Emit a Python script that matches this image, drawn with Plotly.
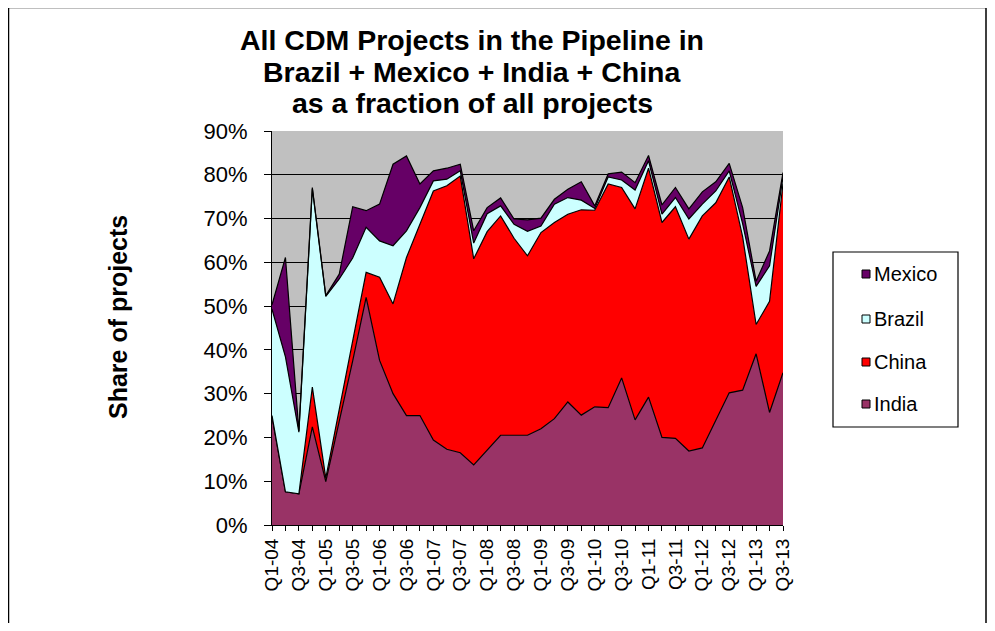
import plotly.graph_objects as go

quarters = [f"Q{q}-{y:02d}" for y in range(4, 14) for q in (1, 2, 3, 4)][:39]

india = [24.7, 7.6, 7.1, 22.4, 9.9, 23.5, 37.5, 52.0, 37.6, 30.0,
         25.0, 25.0, 19.4, 17.3, 16.5, 13.7, 17.1, 20.5, 20.5, 20.5,
         22.0, 24.3, 28.1, 25.1, 27.0, 26.8, 33.6, 24.0, 29.2, 20.0,
         19.8, 16.9, 17.6, 23.8, 30.2, 30.8, 39.1, 25.7, 34.8]
china = [0.3, 0.0, 0.0, 9.1, 0.8, 3.0, 4.5, 5.7, 19.0, 20.5,
         36.1, 43.7, 56.9, 60.2, 63.2, 47.1, 49.9, 50.1, 45.0, 41.0,
         44.8, 44.8, 42.9, 46.9, 44.9, 51.1, 43.5, 48.2, 52.3, 49.1,
         52.9, 48.4, 53.0, 49.8, 49.3, 35.0, 6.7, 25.4, 43.2]
brazil = [24.3, 30.8, 14.1, 45.3, 41.5, 29.7, 19.0, 10.3, 8.3, 13.3,
          6.1, 3.8, 2.3, 1.5, 1.2, 3.6, 4.1, 2.3, 3.2, 5.6,
          1.5, 4.2, 3.8, 2.2, 0.4, 1.6, 1.7, 4.3, 1.7, 1.9,
          2.1, 4.6, 2.7, 2.7, 1.4, 3.0, 8.7, 8.1, 1.5]
mexico = [1.0, 22.7, 0.3, 0.3, 0.2, 1.1, 11.7, 3.8, 8.4, 18.6,
          17.1, 5.4, 2.3, 2.5, 1.5, 2.8, 1.4, 1.8, 1.2, 2.6,
          1.8, 1.1, 1.9, 4.2, 0.6, 0.7, 1.8, 1.7, 1.2, 2.1,
          2.3, 2.3, 2.8, 2.1, 1.7, 3.7, 1.2, 3.4, 1.0]

series_names = ["India", "China", "Brazil", "Mexico"]
series_values = [india, china, brazil, mexico]
series_colors = ["#993366", "#FF0000", "#CCFFFF", "#660066"]

title_lines = ["All CDM Projects in the Pipeline in",
               "Brazil + Mexico + India + China",
               "as a fraction of all projects"]

tick_text = [q if i % 2 == 0 else "" for i, q in enumerate(quarters)]
y_ticks = [i / 10 for i in range(10)]

FONT = "Liberation Sans, Arial, sans-serif"

# page-pixel layout (body has an 8px margin)
OFF = 8
W, H = 995 - 2 * OFF, 631 - 2 * OFF
PL, PR, PT, PB = 272, 783, 131, 525  # plot area in page pixels
pw, ph = PR - PL, PB - PT


def xp(px):
    return (px - PL) / pw


def yp(py):
    return (PB - py) / ph


fig = go.Figure()
for name, vals, col in zip(series_names, series_values, series_colors):
    fig.add_trace(go.Scatter(
        x=quarters, y=[v / 100 for v in vals], name=name,
        stackgroup="one", mode="lines",
        line=dict(color="black", width=1.2),
        fillcolor=col, showlegend=False,
    ))

fig.update_layout(
    width=W, height=H,
    margin=dict(l=PL - OFF, r=W - (PR - OFF), t=PT - OFF, b=H - (PB - OFF), pad=0),
    paper_bgcolor="white", plot_bgcolor="#C0C0C0",
    font=dict(family=FONT, color="black"),
    xaxis=dict(
        type="category", range=[0, len(quarters) - 1],
        tickmode="array", tickvals=quarters, ticktext=tick_text,
        tickangle=-90, ticks="outside", ticklen=5, tickcolor="black",
        showline=True, linecolor="black", linewidth=1,
        showgrid=False, tickfont=dict(size=19, family=FONT),
    ),
    yaxis=dict(
        range=[0, 0.9], tickmode="array", tickvals=y_ticks,
        tickformat=".0%", ticks="outside", ticklen=7, tickcolor="black",
        showline=True, linecolor="black", linewidth=1,
        showgrid=True, gridcolor="black", gridwidth=1,
        zeroline=False, tickfont=dict(size=22, family=FONT),
        ticklabelstandoff=12,
    ),
    showlegend=False,
)

# title lines
for txt, yc in zip(title_lines, [40, 72, 103]):
    fig.add_annotation(
        text=f"<b>{txt}</b>", x=xp(472), y=yp(yc), xref="paper", yref="paper",
        xanchor="center", yanchor="middle", showarrow=False,
        font=dict(size=28.5, family=FONT, color="black"),
    )

# y-axis title
fig.add_annotation(
    text="<b>Share of projects</b>", textangle=-90,
    x=xp(118), y=yp(317), xref="paper", yref="paper",
    xanchor="center", yanchor="middle",
    showarrow=False, font=dict(size=25, family=FONT, color="black"),
)

# chart border
fig.add_shape(
    type="rect", xref="paper", yref="paper",
    x0=xp(8.5), x1=xp(986), y0=yp(640), y1=yp(7.5),
    line=dict(color="black", width=1.5), fillcolor="rgba(0,0,0,0)", layer="below",
)

# legend box
fig.add_shape(
    type="rect", xref="paper", yref="paper",
    x0=xp(833), x1=xp(958), y0=yp(427), y1=yp(252),
    line=dict(color="black", width=1.2), fillcolor="white",
)
leg_y = [274, 319, 362, 404]
for (name, col), yc in zip(list(zip(series_names, series_colors))[::-1], leg_y):
    fig.add_shape(
        type="rect", xref="paper", yref="paper",
        x0=xp(862), x1=xp(870), y0=yp(yc + 4), y1=yp(yc - 4),
        line=dict(color="black", width=1), fillcolor=col,
    )
    fig.add_annotation(
        text=name, x=xp(872), y=yp(yc), xref="paper", yref="paper",
        xanchor="left", yanchor="middle", showarrow=False,
        font=dict(size=20, family=FONT, color="black"),
    )

fig.write_html("out.html")
